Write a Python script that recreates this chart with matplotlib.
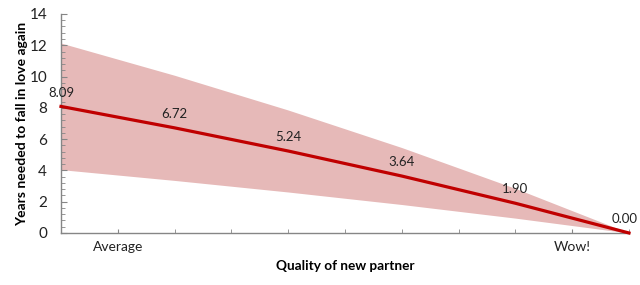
import numpy as np
import matplotlib.pyplot as plt
from matplotlib.ticker import MultipleLocator

plt.rcParams["font.family"] = ["Lato", "DejaVu Sans"]

# data
quality = [0, 2, 4, 6, 8, 10]
years = [8.09, 6.72, 5.24, 3.64, 1.90, 0.00]
upper = [12.14, 10.08, 7.86, 5.46, 2.85, 0.00]
lower = [4.05, 3.36, 2.62, 1.82, 0.95, 0.00]
tick_pos = [1, 9]
tick_labels = ["Average", "Wow!"]

fig = plt.figure(figsize=(6.4, 2.85), dpi=100)
ax = fig.add_axes([0.0953, 0.1825, 0.8875, 0.7685])

ax.fill_between(quality, lower, upper, color="#E6B9B8", linewidth=0, zorder=1)
ax.plot(quality, years, color="#C00000", linewidth=2.3, zorder=3, clip_on=False)

for i, (x, y) in enumerate(zip(quality, years)):
    dx = -3 if i == len(quality) - 1 else 0  # keep last label inside the image
    ax.annotate("%.2f" % y, (x, y), xytext=(dx, 10), textcoords="offset points",
                ha="center", va="center", fontsize=9.5, color="#222222")

ax.set_xlim(0, 10)
ax.set_ylim(0, 14)
ax.yaxis.set_major_locator(MultipleLocator(2))
ax.yaxis.set_minor_locator(MultipleLocator(0.4))
ax.set_xticks(tick_pos, minor=False)
ax.set_xticks(np.arange(0, 11, 1), minor=True)
ax.set_xticklabels(tick_labels)

for s in ["top", "right"]:
    ax.spines[s].set_visible(False)
for s in ["left", "bottom"]:
    ax.spines[s].set_color("#868686")
    ax.spines[s].set_linewidth(1)

ax.tick_params(axis="y", which="major", direction="in", length=4, color="#868686",
               labelsize=11, labelcolor="#222222", pad=10)
ax.tick_params(axis="y", which="minor", direction="in", length=3, color="#868686")
ax.tick_params(axis="x", which="major", direction="in", length=3, color="#868686",
               labelsize=10, labelcolor="#222222", pad=6)
ax.tick_params(axis="x", which="minor", direction="in", length=3, color="#868686")

ax.set_xlabel("Quality of new partner", fontsize=9.8, fontweight="bold", labelpad=5)
ax.set_ylabel("Years needed to fall in love again", fontsize=10, fontweight="bold", labelpad=1)

fig.savefig("out.png", dpi=100)
